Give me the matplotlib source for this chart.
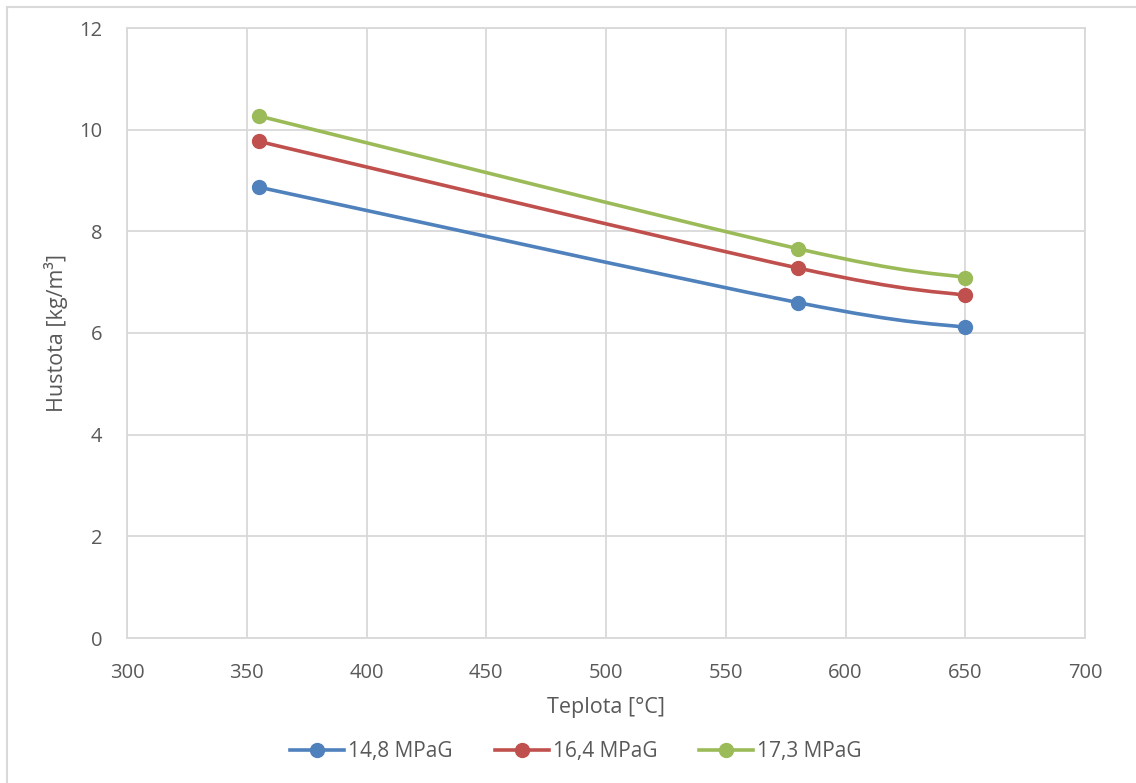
# Package Import
import matplotlib
matplotlib.use('Agg')
import matplotlib.pyplot as plt
import numpy as np
from matplotlib.path import Path
from matplotlib.patches import PathPatch, Rectangle
from matplotlib.lines import Line2D

# Data
teplota = [355, 580, 650]
hustota_148 = [8.87, 6.60, 6.11]
hustota_164 = [9.77, 7.28, 6.74]
hustota_173 = [10.27, 7.66, 7.09]
series_labels = ['14,8 MPaG', '16,4 MPaG', '17,3 MPaG']
x_ticks = [300, 350, 400, 450, 500, 550, 600, 650, 700]
y_ticks = [0, 2, 4, 6, 8, 10, 12]

# Settings
colors = ['#4F81BD', '#C0504D', '#9BBB59']
text_color = '#595959'
grid_color = '#D9D9D9'
plt.rcParams['font.family'] = ['Open Sans', 'DejaVu Sans']


def smooth_path(xs, ys):
    """Excel-like smoothed line: cubic Bezier segments through the points."""
    pts = np.column_stack([xs, ys]).astype(float)
    n = len(pts)
    verts = [pts[0]]
    codes = [Path.MOVETO]
    for i in range(n - 1):
        p0 = pts[i - 1] if i > 0 else pts[i]
        p1 = pts[i]
        p2 = pts[i + 1]
        p3 = pts[i + 2] if i + 2 < n else pts[i + 1]
        c1 = p1 + (p2 - p0) / 6.0
        c2 = p2 - (p3 - p1) / 6.0
        verts += [c1, c2, p2]
        codes += [Path.CURVE4] * 3
    return Path(verts, codes)


# Create the figure
fig = plt.figure(figsize=(11.36, 7.83), dpi=100)
ax = fig.add_axes([127 / 1136, 1 - 638 / 783, (1085 - 127) / 1136, (638 - 28) / 783])

# Chart border
fig.patches.append(Rectangle((7 / 1136, -0.05), 1.1, 1 - 7 / 783 + 0.05,
                             transform=fig.transFigure, fill=False,
                             edgecolor=grid_color, linewidth=1.5, zorder=0))

# Lines and markers
handles = []
for ys, color, label in zip([hustota_148, hustota_164, hustota_173], colors, series_labels):
    ax.add_patch(PathPatch(smooth_path(teplota, ys), facecolor='none',
                           edgecolor=color, linewidth=2.6, capstyle='round', zorder=3))
    ax.plot(teplota, ys, linestyle='none', marker='o', markersize=10,
            color=color, zorder=4)
    handles.append(Line2D([], [], color=color, linewidth=2.6, marker='o',
                          markersize=10, label=label))

# MLS
ax.set_xlim(300, 700)
ax.set_ylim(0, 12)
ax.set_xticks(x_ticks)
ax.set_yticks(y_ticks)
ax.grid(True, color=grid_color, linewidth=1.3)
ax.set_axisbelow(True)
for spine in ax.spines.values():
    spine.set_color(grid_color)
    spine.set_linewidth(1.3)
ax.tick_params(length=0, labelsize=14.5, labelcolor=text_color)
ax.tick_params(axis='x', pad=18)
ax.tick_params(axis='y', pad=18)
ax.set_xlabel('Teplota [°C]', fontsize=15.5, color=text_color, labelpad=10)
ax.set_ylabel('Hustota [kg/m³]', fontsize=15.5, color=text_color, labelpad=8)

fig.legend(handles=handles, loc='center', bbox_to_anchor=(0.507, 1 - 752 / 783),
           ncol=3, frameon=False, fontsize=15, labelcolor=text_color,
           handlelength=2.6, handletextpad=0.2, columnspacing=2.0)

fig.savefig('out.png', dpi=100)
plt.close()
